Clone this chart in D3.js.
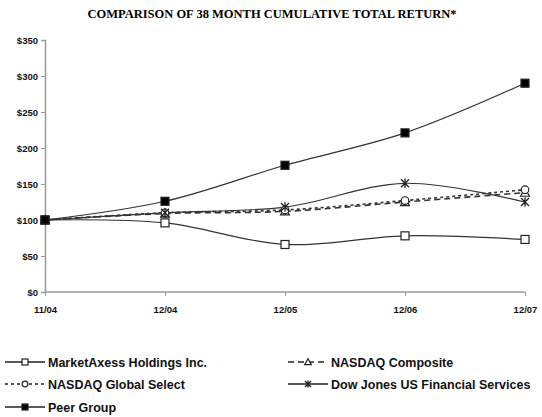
<!DOCTYPE html>
<html>
<meta charset="utf-8">
<title>Cumulative Total Return</title>
<style>
  body { margin: 0; background: #fff; }
  text { font-family: "Liberation Sans", Arial, sans-serif; }
</style>
<body>
<div id="chart"></div>
<script src="https://d3js.org/d3.v7.min.js"></script>
<script>
// data
var periods = ["11/04", "12/04", "12/05", "12/06", "12/07"];
var yTicks = [0, 50, 100, 150, 200, 250, 300, 350];
var marketAxess = [100, 96, 66, 78, 73];
var nasdaqComposite = [100, 109, 112, 125, 138];
var nasdaqGlobal = [100, 110, 114, 127, 142];
var dowJonesFin = [100, 110, 118, 151, 125];
var peerGroup = [100, 126, 176, 221, 290];

var seriesNames = ["MarketAxess Holdings Inc.", "NASDAQ Composite", "NASDAQ Global Select",
                   "Dow Jones US Financial Services", "Peer Group"];
var seriesValues = [marketAxess, nasdaqComposite, nasdaqGlobal, dowJonesFin, peerGroup];
var seriesMarkers = ["openSquare", "triangle", "circle", "star", "square"];
var seriesDash = [null, "6,4", "3,3", null, null];

var W = 542, H = 417;
var svg = d3.select("#chart").append("svg").attr("width", W).attr("height", H);

svg.append("text")
  .attr("x", 272).attr("y", 18)
  .attr("text-anchor", "middle")
  .style("font-family", "'Liberation Serif', 'Times New Roman', serif")
  .style("font-weight", "bold")
  .style("font-size", "12.5px")
  .text("COMPARISON OF 38 MONTH CUMULATIVE TOTAL RETURN*");

var x = d3.scalePoint().domain(periods).range([45, 525]);
var y = d3.scaleLinear().domain([0, 350]).range([292, 40]);

var axisColor = "#999";

// y axis
var yAxis = svg.append("g").attr("transform", "translate(45,0)")
  .call(d3.axisLeft(y).tickValues(yTicks).tickSize(4).tickFormat(function (d) { return "$" + d; }));
// x axis
var xAxis = svg.append("g").attr("transform", "translate(0,292)")
  .call(d3.axisBottom(x).tickSize(4).tickPadding(10));

[yAxis, xAxis].forEach(function (a) {
  a.select(".domain").attr("stroke", axisColor).attr("stroke-width", 1.5);
  a.selectAll(".tick line").attr("stroke", axisColor);
  a.selectAll("text").style("font-size", "9.5px").style("font-weight", "bold")
    .style("font-family", "'Liberation Sans', Arial, sans-serif").attr("fill", "#111");
});
xAxis.select(".domain").attr("d", "M45,0H525");

var line = d3.line()
  .x(function (d, i) { return x(periods[i]); })
  .y(function (d) { return y(d); })
  .curve(d3.curveCatmullRom.alpha(0.5));

function drawMarker(g, type, cx, cy, s) {
  if (type === "openSquare" || type === "square") {
    g.append("rect").attr("x", cx - s).attr("y", cy - s).attr("width", 2 * s).attr("height", 2 * s)
      .attr("fill", type === "square" ? "#000" : "#fff").attr("stroke", "#222").attr("stroke-width", 1.2);
  } else if (type === "circle") {
    g.append("circle").attr("cx", cx).attr("cy", cy).attr("r", s * 0.95)
      .attr("fill", "#fff").attr("stroke", "#222").attr("stroke-width", 1.2);
  } else if (type === "triangle") {
    g.append("path").attr("d", "M" + cx + "," + (cy - s * 1.1) + "L" + (cx + s * 1.1) + "," + (cy + s * 0.9) + "L" + (cx - s * 1.1) + "," + (cy + s * 0.9) + "Z")
      .attr("fill", "#fff").attr("stroke", "#222").attr("stroke-width", 1.2);
  } else if (type === "star") {
    g.append("path").attr("d",
      "M" + (cx - s) + "," + (cy - s) + "L" + (cx + s) + "," + (cy + s) +
      "M" + (cx + s) + "," + (cy - s) + "L" + (cx - s) + "," + (cy + s) +
      "M" + cx + "," + (cy - s * 1.2) + "L" + cx + "," + (cy + s * 1.2))
      .attr("stroke", "#222").attr("stroke-width", 1.3).attr("fill", "none");
  }
}

// lines first, then markers on top
seriesValues.forEach(function (vals, k) {
  svg.append("path").datum(vals)
    .attr("d", line)
    .attr("fill", "none")
    .attr("stroke", "#333")
    .attr("stroke-width", k === 1 || k === 2 ? 1.6 : 1.2)
    .attr("stroke-dasharray", seriesDash[k]);
});
seriesValues.forEach(function (vals, k) {
  var g = svg.append("g");
  vals.forEach(function (v, i) { drawMarker(g, seriesMarkers[k], x(periods[i]), y(v), 4); });
});

// legend
var legendPos = [[5, 362], [288, 362], [5, 384], [288, 384], [5, 407]];
seriesNames.forEach(function (name, k) {
  var p = legendPos[k];
  var g = svg.append("g");
  g.append("line").attr("x1", p[0]).attr("x2", p[0] + 40).attr("y1", p[1]).attr("y2", p[1])
    .attr("stroke", "#222").attr("stroke-width", 1.4).attr("stroke-dasharray", seriesDash[k]);
  drawMarker(g, seriesMarkers[k], p[0] + 20, p[1], 3);
  var t = g.append("text").attr("x", p[0] + 43).attr("y", p[1] + 4.5)
    .style("font-size", "12.5px").style("font-weight", "bold").attr("fill", "#111")
    .text(name);
  // keep long labels inside the page
  var room = W - 3 - (p[0] + 43);
  if (t.node().getComputedTextLength() > room) t.attr("textLength", room).attr("lengthAdjust", "spacingAndGlyphs");
});
</script>
</body>
</html>
